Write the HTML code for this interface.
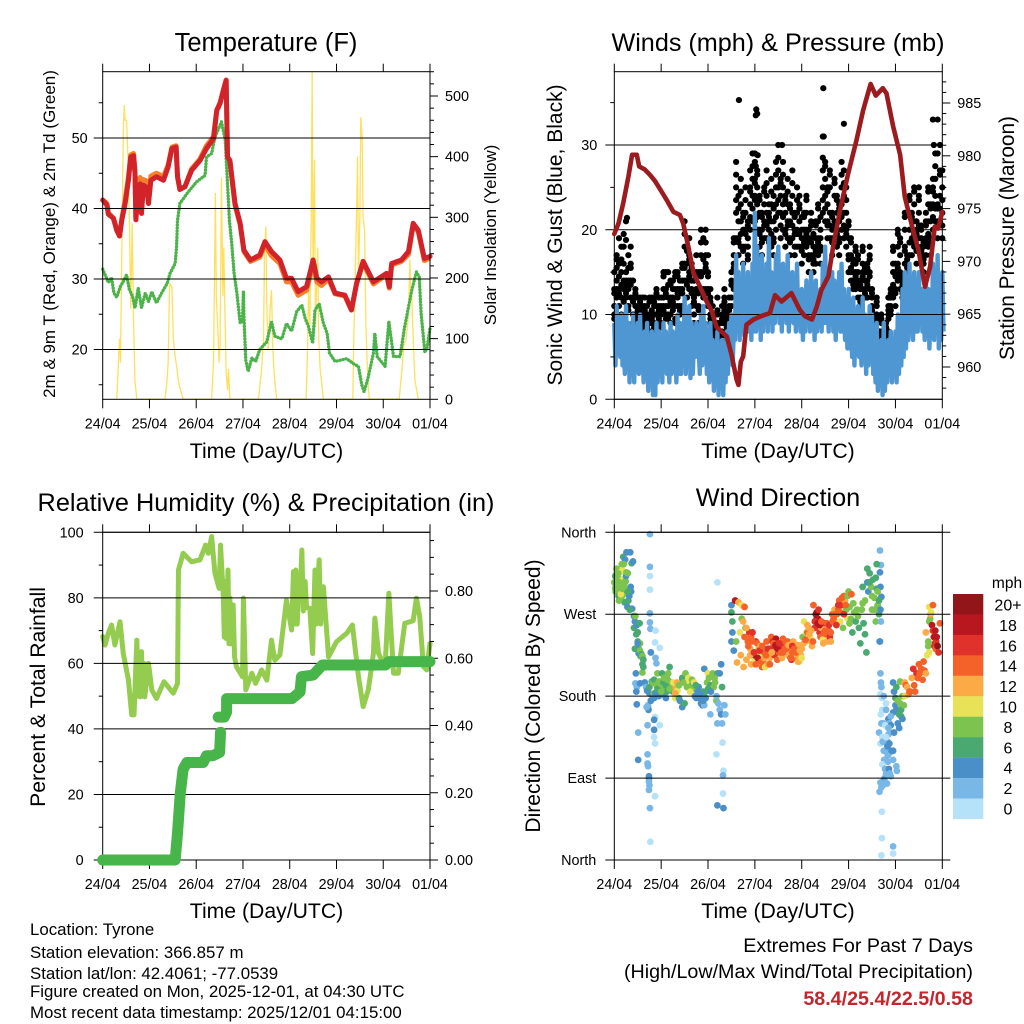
<!DOCTYPE html>
<html lang="en">
<head>
<meta charset="utf-8">
<title>Tyrone Station Meteogram</title>
<style>
html,body{margin:0;padding:0;background:#fff;}
svg{display:block;font-family:"Liberation Sans",sans-serif;fill:#000;}
</style>
</head>
<body>
<svg id="chart" xmlns="http://www.w3.org/2000/svg" width="1024" height="1024" viewBox="0 0 1024 1024">
<rect x="0" y="0" width="1024" height="1024" fill="#fff"/>
<g id="p-temp"></g>
<g id="p-wind"></g>
<g id="p-rh"></g>
<g id="p-dir"></g>
<g id="p-legend"></g>

<text x="266" y="51" font-size="25.5" text-anchor="middle">Temperature (F)</text>
<text x="778" y="51" font-size="25.2" text-anchor="middle">Winds (mph) &amp; Pressure (mb)</text>
<text x="266" y="511" font-size="25.3" text-anchor="middle">Relative Humidity (%) &amp; Precipitation (in)</text>
<text x="778" y="506" font-size="25.3" text-anchor="middle">Wind Direction</text>

<text x="266.5" y="458" font-size="21.2" text-anchor="middle">Time (Day/UTC)</text>
<text x="778" y="458" font-size="21.2" text-anchor="middle">Time (Day/UTC)</text>
<text x="266.5" y="918" font-size="21.2" text-anchor="middle">Time (Day/UTC)</text>
<text x="778" y="918" font-size="21.2" text-anchor="middle">Time (Day/UTC)</text>

<text transform="translate(55,234) rotate(-90)" font-size="17" text-anchor="middle">2m &amp; 9m T (Red, Orange) &amp; 2m Td (Green)</text>
<text transform="translate(496,235) rotate(-90)" font-size="16.9" text-anchor="middle">Solar Insolation (Yellow)</text>
<text transform="translate(562,235) rotate(-90)" font-size="21" text-anchor="middle">Sonic Wind &amp; Gust (Blue, Black)</text>
<text transform="translate(1014,238) rotate(-90)" font-size="20.8" text-anchor="middle">Station Pressure (Maroon)</text>
<text transform="translate(45,697) rotate(-90)" font-size="21.2" text-anchor="middle">Percent &amp; Total Rainfall</text>
<text transform="translate(540,696) rotate(-90)" font-size="21" text-anchor="middle">Direction (Colored By Speed)</text>

<g font-size="16.85">
<text x="30" y="935">Location: Tyrone</text>
<text x="30" y="958">Station elevation: 366.857 m</text>
<text x="30" y="979">Station lat/lon: 42.4061; -77.0539</text>
<text x="30" y="997">Figure created on Mon, 2025-12-01, at 04:30 UTC</text>
<text x="30" y="1018">Most recent data timestamp: 2025/12/01 04:15:00</text>
</g>
<g font-size="19.7" text-anchor="end">
<text x="973" y="952">Extremes For Past 7 Days</text>
<text x="973" y="978">(High/Low/Max Wind/Total Precipitation)</text>
<text x="973" y="1005" font-weight="bold" style="fill:#c1272d">58.4/25.4/22.5/0.58</text>
</g>
</svg>

<script>
// ---- shared tick data ----
const dayTicks = [0,1,2,3,4,5,6,7];
const dayLabels = ['24/04','25/04','26/04','27/04','28/04','29/04','30/04','01/04'];

// ---- temperature panel data ----
const tempDays = [0,.09,.12,.23,.30,.36,.41,.48,.55,.60,.66,.69,.71,.76,.80,.83,.87,.94,.98,1.03,1.15,1.30,1.40,1.48,1.57,1.60,1.65,1.76,1.90,2.08,2.22,2.37,2.44,2.51,2.58,2.64,2.67,2.72,2.83,2.94,3.02,3.16,3.36,3.47,3.61,3.79,3.93,4.04,4.18,4.36,4.50,4.58,4.68,4.83,4.97,5.18,5.32,5.43,5.57,5.79,6.07,6.13,6.18,6.39,6.54,6.64,6.75,6.88,7];
const tempRed = [41.2,40.5,39.2,38.6,36.9,36.1,38.4,40.7,44,47.3,47.5,45,38.4,43.1,43.5,39.3,43.3,43,40.7,44,44.5,44,45.9,48.5,48.7,44.5,42.7,43.1,45.4,46.8,48.5,49.9,53.9,54.9,56.7,58.2,47.3,46.8,40.7,37.9,34.1,32.7,33.4,35.3,33.9,32.7,30.1,30.1,28.2,28.9,32.7,30.1,29.6,30.3,28,27.7,25.6,29.4,32.5,29.6,30.8,28.9,32.2,32.7,33.9,37.9,36.9,32.9,33.2];
const tempOrange = [41.2,40.7,39.4,38.6,37.1,36.1,38.6,41.2,44.4,47.6,47.8,45.4,38.6,44,44.4,39.5,44.1,43.9,41,44.6,45,44.5,46.2,48.7,48.9,44.6,42.7,43.1,45.6,47,48.9,50.2,54,55,56.8,58.2,47.3,46.8,40.5,37.7,33.9,32.5,33.1,34.9,33.3,32.2,29.6,29.6,27.7,28.4,32.3,29.6,29.1,30,27.9,27.6,25.6,29.3,32.3,29.3,30.6,28.7,32,32.5,33.5,37.6,36.7,32.6,33];
const dewDays = [0,.07,.12,.19,.24,.30,.38,.44,.51,.57,.64,.69,.76,.83,.91,.98,1.05,1.15,1.26,1.38,1.44,1.55,1.58,1.60,1.65,1.80,2.01,2.19,2.22,2.33,2.40,2.54,2.62,2.67,2.71,2.76,2.81,2.87,2.94,2.99,3.01,3.02,3.06,3.11,3.19,3.27,3.36,3.51,3.61,3.68,3.83,3.93,4.04,4.15,4.26,4.33,4.40,4.49,4.54,4.63,4.72,4.80,4.85,4.97,5.22,5.36,5.47,5.54,5.59,5.68,5.79,5.82,5.87,6.04,6.12,6.22,6.36,6.46,6.61,6.71,6.77,6.81,6.89,6.94,7];
const dewPoint = [31.4,30.3,29.5,30.2,28,27.4,29,29.6,30.6,28.5,27.5,25.9,28.7,25.9,28,26.8,28.2,26.6,28,29.4,30.8,32.2,34.6,38.3,40.7,42.1,43.8,44.7,47.3,47.8,50.1,52.3,49.7,43.5,38.3,35,30.8,28,23.7,24.2,28.2,24.7,18.5,16.9,18.8,18.3,20,21.1,24,21.9,21.5,23.7,22.6,25.4,26.3,24.4,23.3,20.9,25.6,26.5,23.7,22.3,19.5,18.3,18.7,18,17.6,15,14,16.1,19.5,22.3,19,17.6,24,19,19,23.3,28.4,31,30.3,25.1,19.6,20.3,23];
const solarDays = [.30,.36,.38,.41,.44,.46,.48,.51,.54,.57,.60,.63,.66,.69,.73,1.33,1.37,1.40,1.43,1.45,1.48,1.51,1.55,1.58,1.62,1.65,1.72,2.33,2.37,2.39,2.41,2.43,2.46,2.49,2.51,2.54,2.57,2.59,2.62,2.64,2.67,2.69,2.72,3.33,3.40,3.44,3.46,3.49,3.51,3.54,3.58,3.61,3.64,3.67,3.72,4.35,4.38,4.40,4.43,4.46,4.48,4.50,4.53,4.55,4.58,4.60,4.62,4.65,4.68,4.72,5.35,5.37,5.40,5.43,5.45,5.47,5.50,5.52,5.55,5.57,5.60,5.63,5.66,5.70,6.34,6.39,6.44,6.49,6.54,6.57,6.59,6.61,6.64,6.68,6.75];
const solarVals = [0,100,60,250,440,485,460,460,400,300,150,290,130,30,0,0,25,60,190,190,185,100,70,55,30,20,0,0,60,190,340,170,120,60,90,365,170,250,120,45,15,50,0,0,50,100,240,285,150,80,150,180,80,40,0,0,80,180,120,300,540,200,395,120,200,250,100,50,30,0,0,100,200,310,400,200,300,465,430,300,280,120,50,0,0,40,90,100,140,230,170,170,100,30,0];
const tempTicks = [20,30,40,50];
const tempMinorTicks = [15,25,35,45,55];
const solarTicks = [0,100,200,300,400,500];
const solarMinorTicks = [20,40,60,80,120,140,160,180,220,240,260,280,320,340,360,380,420,440,460,480,520,540];

// ---- wind panel data (0.05-day sampling) ----
const windStep = 0.05;
const windHi = [
9,11,7,10,8,11,9,7,10,8, 9,10,7,8,9,6,8,7,9,8,
7,9,8,6,9,8,7,10,9,8, 12,10,11,9,7,9,6,10,11,9,
8,9,7,6,8,5,7,6,8,9, 10,8,17,15,13,16,14,15,13,16,
22,18,15,17,14,16,19,15,14,17, 18,15,16,14,17,13,15,14,16,12,
13,11,14,13,15,12,14,11,13,16, 18,15,13,15,14,13,15,16,13,11,
13,11,12,10,11,9,12,10,9,11, 10,8,9,6,7,9,5,7,8,6,
8,10,9,13,15,13,16,14,15,12, 15,13,11,14,13,12,16,14,17,13,15];
const windLo = [
4,6,5,4,3,5,2,3,2,4, 3,4,2,3,1,2,.5,.5,2,3,
2,4,3,2,3,4,2,3,3,4, 3,5,2.5,3,5,6,3,4,5,3,
2,3,1,2,.5,2,.5,2,3,5, 4,7,8,7,8,7.5,8,8,7,8,
8,9,7,8,9,8,9,8,9,10, 9,8,10,9,8,10,9,8,9,8,
7,8,9,8,9,7,8,9,8,9, 9,8,9,8,7,9,8,8,7,6,
6,5,4,6,5,4,5,3,4,5, 3,2,1,2,.5,1,2,3,2,3,
2,3,4,5,6,7,8,7,8,8, 9,8,7,8,6,8,7,8,6,7,8];
const gustA = [
13,17,19,15,18,21,14,16,12,13, 12,11,12,12,11,12,10,11,13,12,
12,15,13,15,12,14,13,15,14,16, 21,18,19,16,14,17,15,20,19,20,
17,13,11,10,12,8,11,13,10,12, 15,19,28,24,26,22,25,21,27,29,
28,27,24,22,25,27,23,26,24,28, 30,26,28,24,26,23,27,22,25,24,
20,22,24,20,22,18,21,23,20,31, 28,25,27,22,26,24,23,28,27,25,
21,19,16,18,17,14,18,15,16,18, 13,10,12,8,10,7,9,12,13,18,
16,20,19,14,22,17,24,22,25,21, 25,20,18,22,25,23,26,29,33,30,27];
const gustB = [
11,14,13,12,16,12,17,14,10,11, 10,9,11,10,8,10,9,10,11,10,
10,12,11,12,10,13,11,12,11,13, 16,14,15,13,10,13,11,15,13,16,
13,10,9,8,9,7,9,11,8,10, 12,16,22,19,21,18,20,18,23,24,
24,23,20,19,21,22,20,21,19,23, 25,22,23,20,21,19,22,18,20,21,
18,19,20,17,19,16,18,19,18,27, 24,21,22,19,21,20,19,23,22,20,
17,15,14,15,14,12,15,13,14,15, 11,9,10,7,8,6,8,10,11,15,
13,16,15,12,18,15,20,19,21,18, 22,18,16,19,21,19,23,24,21,24,22];
const gustC = [
10,12,11,10,13,14,11,12,9,10, 9,8,9,9,7,8,8,9,10,9,
9,11,10,10,9,11,9,11,10,11, 14,12,13,11,9,11,9,13,12,13,
11,9,8,7,8,6,8,9,7,9, 11,13,19,17,18,16,18,17,20,21,
21,20,18,17,19,19,21,18,17,20, 22,19,20,18,19,17,19,17,18,18,
16,17,18,15,17,15,16,17,16,22, 21,19,19,17,19,18,17,20,19,18,
15,14,13,13,12,11,13,12,12,13, 10,8,9,6,7,5,7,8,10,12,
11,14,13,14,16,14,17,17,18,16, 19,16,15,17,18,17,20,21,19,21,19];
const gustD = [
15,13,16,18,14,15,13,18,14,12, 11,12,10,11,10,9,12,12,10,11,
11,13,15,11,14,12,15,13,13,14, 18,16,17,14,12,15,13,17,15,17,
15,12,10,9,10,9,10,12,9,11, 14,17,25,21,23,20,22,19,25,26,
26,25,22,20,23,24,22,23,21,25, 27,24,25,22,23,21,24,20,22,23,
19,20,22,19,21,17,19,21,19,25, 26,23,25,20,24,22,21,25,24,22,
19,17,15,16,15,13,16,14,15,17, 12,9,11,8,9,7,8,11,12,16,
15,18,17,13,20,16,22,20,23,20, 24,19,17,21,23,21,25,26,23,27,25];
const gustE = [
9.5,15.5,12.5,13.5,11.5,12.5,10.5,13.5,8.5,9.5, 9.5,10.5,8.5,9.5,8.5,7.5,9.5,8.5,8.5,9.5,
8.5,10.5,9.5,9.5,11.5,10.5,9.5,12.5,10.5,12.5, 15.5,13.5,14.5,12.5,11.5,12.5,10.5,14.5,12.5,15.5,
12.5,9.5,8.5,7.5,8.5,6.5,7.5,10.5,8.5,8.5, 13.5,15.5,23.5,18.5,19.5,17.5,19.5,16.5,21.5,22.5,
23.5,21.5,19.5,18.5,20.5,20.5,18.5,19.5,18.5,21.5, 23.5,20.5,21.5,19.5,20.5,18.5,20.5,19.5,19.5,19.5,
17.5,18.5,19.5,16.5,18.5,16.5,17.5,18.5,17.5,23.5, 22.5,20.5,20.5,18.5,20.5,19.5,18.5,21.5,20.5,19.5,
16.5,15.5,13.5,14.5,13.5,11.5,14.5,12.5,13.5,14.5, 10.5,8.5,9.5,6.5,7.5,5.5,7.5,9.5,10.5,13.5,
12.5,15.5,14.5,12.5,17.5,15.5,18.5,18.5,19.5,17.5, 20.5,17.5,16.5,18.5,19.5,18.5,21.5,22.5,20.5,22.5,20.5];
const gustF = [
12.5,16.5,14.5,16.5,19.5,13.5,15.5,15.5,11.5,12.5, 10.5,11.5,9.5,10.5,9.5,11.5,10.5,11.5,12.5,10.5,
10.5,14.5,12.5,13.5,13.5,11.5,14.5,14.5,12.5,15.5, 19.5,17.5,16.5,15.5,12.5,14.5,12.5,18.5,16.5,18.5,
14.5,11.5,9.5,8.5,10.5,7.5,9.5,11.5,9.5,10.5, 13.5,18.5,26.5,22.5,24.5,21.5,23.5,20.5,24.5,27.5,
25.5,26.5,23.5,21.5,24.5,25.5,21.5,24.5,22.5,26.5, 28.5,25.5,26.5,23.5,24.5,22.5,25.5,21.5,23.5,22.5,
21.5,21.5,23.5,18.5,20.5,19.5,20.5,22.5,21.5,28.5, 27.5,24.5,26.5,21.5,25.5,23.5,22.5,26.5,25.5,23.5,
20.5,18.5,16.5,17.5,16.5,13.5,17.5,15.5,15.5,16.5, 12.5,9.5,11.5,7.5,9.5,6.5,8.5,10.5,12.5,17.5,
14.5,19.5,18.5,13.5,21.5,16.5,23.5,21.5,24.5,19.5, 23.5,20.5,18.5,20.5,24.5,22.5,24.5,27.5,22.5,26.5,23.5];
const gustPeakDays = [2.66,3.03,3.02,3.05,3.58,4.46,4.47,4.9,6.8,6.82,6.9,.27,.25,3.0,3.02,3.06];
const gustPeakVals = [35.3,34.2,33.5,33.7,30,36.7,31,32.5,33,30,29,21.4,18.8,29,27.5,28.8];
const pressDays = [0,.09,.19,.30,.38,.48,.53,.65,.76,.87,1.01,1.12,1.26,1.40,1.47,1.58,1.69,1.83,1.97,2.08,2.18,2.40,2.50,2.61,2.65,2.70,2.75,2.82,2.97,3.18,3.32,3.43,3.57,3.78,3.96,4.07,4.22,4.32,4.42,4.57,4.67,4.82,4.99,5.17,5.31,5.47,5.58,5.73,5.81,5.95,6.10,6.20,6.34,6.49,6.63,6.74,6.84,6.91,7];
const pressVals = [972.6,973.6,975.5,978,980.1,980.1,979,978.7,978.2,977.6,976.6,975.8,974.7,974.4,973.6,971.4,968.9,967.6,966.2,965.3,963.8,962.9,961.2,958.8,958.3,960.5,961,964,964.5,964.9,965.1,966.8,966.2,967,965.4,964.8,964.5,965.7,967.3,968.6,971.4,974.9,978.3,981.5,984.3,986.8,985.7,986.4,985.9,982.8,980.1,976.1,973.6,971.1,967.6,969.5,973.3,973.1,974.7];
const windTicks = [0,10,20,30];
const windMinorTicks = [5,15,25,35];
const pressTicks = [960,965,970,975,980,985];
const pressMinorTicks = [958,959,961,962,963,964,966,967,968,969,971,972,973,974,976,977,978,979,981,982,983,984,986,987];

// ---- humidity panel data ----
const rhDays = [0,.05,.12,.19,.26,.37,.44,.55,.62,.67,.73,.76,.78,.80,.83,.85,.88,.9,.98,1.05,1.15,1.31,1.51,1.60,1.62,1.72,1.90,2.08,2.20,2.26,2.33,2.40,2.49,2.52,2.58,2.6,2.62,2.64,2.68,2.70,2.72,2.74,2.79,2.82,2.86,2.99,3.01,3.06,3.19,3.27,3.40,3.51,3.61,3.68,3.79,3.93,4.04,4.08,4.11,4.13,4.16,4.18,4.22,4.26,4.29,4.33,4.36,4.43,4.49,4.54,4.57,4.6,4.63,4.66,4.72,4.83,5.0,5.22,5.34,5.47,5.57,5.68,5.79,5.82,5.90,6.04,6.12,6.22,6.32,6.46,6.64,6.71,6.78,6.86,6.93,7];
const rhVals = [68.2,65.6,69.2,71.7,65.6,72.7,63,55,44.3,44.3,67.1,50,63,49.8,63.6,50,60,49.8,60,51.9,49.3,54.4,50.9,53.9,88.5,93.6,91,91.6,96.1,93.6,98.7,87.5,82.9,96.1,80.4,68,85,67.6,88.5,66,80,66,77.8,62,59,55.9,79.9,51.9,57,53.9,58,54.9,67.1,61,62.6,79.3,70.2,88,72,88.5,72,79,80,94.6,76,85,77,76.8,63,88.5,72,85,91.6,72,83.4,62,66.6,69.2,71.7,56,46.8,51.9,63,73.8,63,59,81.4,57,57,72.2,73,79.9,74.3,59,58,66.1];
const rainDays = [0,1,1.55,1.60,1.66,1.72,1.8,2.05,2.15,2.22,2.35,2.5,2.52,null,2.47,2.6,2.65,2.65,4.05,4.22,4.25,4.5,4.7,6.05,6.12,7];
const rainVals = [0,0,0,.08,.2,.27,.29,.29,.29,.31,.31,.32,.38,null,.425,.425,.44,.48,.48,.5,.545,.55,.58,.58,.59,.59];
const rhTicks = [0,20,40,60,80,100];
const rhMinorTicks = [10,30,50,70,90];
const rainTicks = [0,.2,.4,.6,.8];
const rainMinorTicks = [.05,.1,.15,.25,.3,.35,.45,.5,.55,.65,.7,.75,.85,.9,.95];

// ---- wind direction panel data ----
const dirTicks = [0,90,180,270,360];
const dirLabels = ['North','East','South','West','North'];
const speedLabels = ['20+','18','16','14','12','10','8','6','4','2','0'];
const speedColors = ['#921619','#b8171f','#e0322a','#f4622a','#fbaa46','#e8e258','#7cc44f','#4aa970','#4a8fc8','#79b8e6','#b6e2f9'];
const dirDay = [
0,.02,.03,.05,.06,.08,.09,.1,.12,.13,
.15,.16,.18,.19,.2,.22,.23,.25,.26,.27,
.28,.3,.32,.34,.35,.37,.38,.4,.42,.44,
.42,.45,.47,.48,.5,.5,.52,.54,.55,.56,
.44,.5,.52,.55,.58,.6,.6,.62,.46,.48,
.45,.47,.48,.55,.6,.62,.65,.68,.7,.72,
.72,.73,.75,.75,.78,.8,.82,.82,.84,.85,
.85,.88,.9,.92,.92,.95,.95,.98,1.0,1.02,
1.05,1.05,1.08,1.1,1.12,1.12,1.15,1.15,1.18,1.2,
1.22,1.25,1.28,1.3,1.3,1.32,1.35,1.38,1.4,1.42,
1.45,1.45,1.48,1.5,1.52,1.55,1.58,1.6,1.62,1.65,
1.68,1.7,1.72,1.75,1.78,1.8,1.82,1.85,1.88,1.9,
1.92,1.92,1.95,1.95,1.98,2.0,2.02,2.05,2.05,2.1,
2.12,2.15,2.18,2.2,2.25,2.28,2.3,2.5,2.5,2.52,
2.5,2.52,2.55,2.58,2.6,2.62,2.65,2.68,2.7,2.72,
2.72,2.75,2.76,2.78,2.8,2.82,2.85,2.88,2.9,2.92,
2.92,2.95,2.98,3.0,3.02,3.05,3.08,3.1,3.12,3.15,
3.18,3.2,3.22,3.25,3.28,3.3,3.32,3.35,3.38,3.4,
3.42,3.45,3.48,3.5,3.52,3.55,3.58,3.6,3.62,3.65,
3.68,3.7,3.72,3.75,3.78,3.8,3.82,3.85,3.88,3.9,
3.92,3.95,3.98,4.0,4.02,4.05,4.08,4.1,4.12,4.15,
4.18,4.2,4.22,4.25,4.28,4.3,4.32,4.35,4.38,4.4,
4.42,4.45,4.48,4.5,4.52,4.55,4.58,4.6,4.62,4.65,
4.68,4.7,4.72,4.75,4.78,4.8,4.82,4.85,4.88,4.9,
4.92,4.95,4.98,5.0,5.02,5.05,5.08,5.1,5.12,5.15,
5.18,5.2,5.22,5.25,5.28,5.3,5.32,5.35,5.38,5.4,
5.42,5.45,5.48,5.5,5.52,5.55,5.58,5.6,5.62,5.65,
5.67,5.69,5.67,5.68,5.7,5.68,5.69,5.66,5.67,5.68,
5.69,5.7,5.68,5.71,5.72,5.69,5.7,5.65,5.72,5.68,
5.74,5.73,5.75,5.76,5.72,5.78,5.77,5.75,5.73,5.78,
5.68,5.70,5.66,5.71,5.71,5.70,5.95,5.95,5.78,5.8,
5.95,5.97,6.0,6.0,6.02,6.02,6.05,6.05,6.08,6.08,
6.1,6.1,6.12,6.12,6.15,6.15,6.18,6.2,6.2,6.22,
6.25,6.28,6.3,6.32,6.35,6.38,6.4,6.42,6.45,6.48,
6.5,6.52,6.55,6.58,6.6,6.62,6.65,6.68,6.7,6.72,
6.65,6.7,6.72,6.72,6.74,6.75,6.76,6.78,6.8,6.8,
6.82,6.83,6.84,6.85,6.86,6.87,6.88,6.9,6.92,6.95,
.76,.76,.76,.76,.76,.76,.77,.88,.87,.97,
.78,.88,.9,.69,.87,.85,.71,.97,.85,.51,
.85,.87,.71,.51,.71,.72,.74,.74,.74,.75,
.74,.87,.76,.77,2.2,2.18,2.22,2.25,2.28,2.35,
2.2,2.3,2.31,2.18,2.33,2.32,2.32,2.2,2.33,2.37,
5.8,5.85,5.87,5.88,5.83,5.82,5.84,5.86,5.88,5.9,
5.85,5.83,5.84,5.88,5.9,5.82,5.95,5.95,6.02,6.03,
5.87,5.78,5.8,5.95,5.97,5.75,5.8,5.85,5.9,5.92,
.03,.07,.1,.14,.17,.21,.24,.29,.33,.36,
2.78,2.82,2.86,2.9,2.94,2.98,3.02,3.06,3.1,3.14,
3.16,3.2,3.24,3.28,3.32,3.36,3.4,3.44,3.48,3.52,
3.56,3.6,3.64,3.68,3.72,3.76,3.8,3.84,3.88,3.92,
3.96,4.0,4.04,4.08,4.12,4.16,4.2,4.24,4.28,4.32,
4.34,4.36,4.38,4.42,4.46,4.5,4.54,4.58,4.62,4.66,
4.7,4.74,4.78,4.82,4.86,4.9,4.94,4.98,5.02,5.06,
1.0,1.06,1.1,1.14,1.18,1.22,1.26,1.3,1.34,1.38,
1.62,1.66,1.7,1.74,1.78,1.84,1.9,2.0,2.06,2.14,
.02,.05,.08,.11,.14,.17,.2,.23,.26,.3,
5.3,5.35,5.4,5.45,5.5,5.55,5.58,5.6,5.62,5.65];
const dirDeg = [
305,312,295,320,300,310,290,298,316,303,
288,325,308,333,292,283,330,312,338,296,
278,285,290,338,300,326,276,328,268,262,
255,268,248,258,250,240,232,260,238,224,
232,238,227,230,226,224,215,220,205,190,
194,185,171,194,206,212,195,190,186,170,
168,165,190,183,175,196,195,178,183,178,
198,183,192,188,205,180,196,186,193,205,
195,182,190,178,200,185,205,192,212,192,
190,185,188,183,178,190,186,178,175,195,
200,168,195,172,205,190,200,197,190,192,
195,188,180,178,185,190,178,172,170,185,
210,170,178,185,195,205,200,160,192,205,
190,195,175,205,205,215,190,280,272,250,
240,262,230,285,240,217,283,250,225,265,
280,262,212,278,255,220,240,250,232,245,
215,250,222,225,240,238,232,224,235,212,
220,228,212,240,215,232,222,245,240,235,
225,243,220,238,228,232,222,243,235,240,
232,240,225,235,220,228,240,222,232,225,
236,218,225,232,245,262,240,250,250,255,
245,240,235,280,255,270,265,265,250,245,
255,242,250,260,248,240,252,245,240,270,
265,275,260,270,275,285,262,280,255,290,
285,275,265,295,278,265,250,282,272,262,
275,268,255,238,275,282,260,248,228,305,
295,315,300,275,308,288,262,298,280,270,
340,324,316,300,289,275,262,240,240,205,
195,190,182,178,165,160,150,140,135,128,
150,130,120,110,105,100,90,88,82,85,
85,80,75,53,24,5,15,7,100,95,
195,185,178,170,190,165,175,150,160,145,
196,172,165,158,180,155,170,180,195,192,
190,182,185,185,200,210,192,185,205,200,
215,205,210,198,218,208,205,225,235,228,
250,240,262,278,265,270,272,258,252,280,
245,235,238,252,232,240,245,235,228,260,
358,322,312,297,271,261,254,252,239,233,
228,222,216,168,157,154,148,148,143,140,
135,128,116,110,106,103,92,90,86,82,
77,70,57,20,305,180,172,165,160,170,
150,150,129,116,98,93,73,60,57,160,
165,155,150,140,130,118,115,100,95,148,
138,125,108,118,92,84,120,110,103,98,
128,148,172,162,140,180,135,145,158,120,
300,306,285,300,318,300,306,315,275,295,
245,255,235,225,240,228,215,222,230,218,
235,222,225,232,215,228,238,236,232,238,
228,228,232,238,236,222,235,232,228,218,
230,222,238,242,258,248,252,240,262,272,
260,275,258,262,238,252,260,258,250,262,
270,258,280,272,288,270,280,290,260,292,
185,200,192,198,188,195,195,183,195,192,
185,198,195,192,180,182,175,188,185,200,
298,303,315,305,292,298,325,305,316,295,
300,285,320,305,290,275,310,325,295,285];
const dirSpeed = [
8,6,8,8,10,8,6,8,10,8,
8,8,10,6,8,6,4,4,4,6,
4,6,4,4,4,6,4,4,4,4,
6,8,6,4,6,6,4,6,8,6,
6,4,4,8,6,8,6,6,4,2,
2,4,4,4,8,6,4,2,4,2,
2,4,6,4,4,6,8,4,8,4,
6,4,8,6,8,4,8,6,8,6,
6,4,8,4,8,6,8,6,6,10,
8,6,12,12,10,12,10,6,4,4,
6,4,8,6,8,8,10,10,8,8,
6,8,4,4,4,4,4,4,4,6,
4,2,4,6,8,10,8,2,6,8,
8,8,8,6,4,4,6,4,6,4,
4,6,4,18,8,12,12,10,12,8,
10,12,12,14,8,12,14,16,12,14,
12,16,10,18,16,14,12,10,12,14,
14,14,10,14,12,16,12,14,16,16,
16,18,14,16,14,16,12,14,16,14,
14,14,12,14,16,14,12,14,16,12,
12,10,12,12,8,10,12,10,14,12,
10,12,12,14,16,18,20,18,16,14,
12,10,14,16,14,12,14,16,12,14,
14,12,12,14,14,14,10,16,8,14,
12,8,10,8,8,8,6,8,8,6,
8,8,6,6,8,8,6,6,6,4,
4,6,8,8,6,8,8,6,8,6,
2,2,4,4,4,4,2,2,4,2,
2,2,0,0,0,0,2,2,0,0,
2,2,2,2,0,2,2,4,2,2,
2,2,2,0,0,0,2,0,2,2,
4,4,6,4,6,4,8,4,6,4,
8,8,6,6,8,4,8,10,12,14,
12,12,14,14,12,16,14,14,16,14,
14,14,14,14,14,14,12,10,8,10,
12,8,8,10,8,12,10,18,16,14,
18,16,16,18,14,16,18,20,16,14,
2,2,0,0,2,2,2,0,0,0,
4,2,2,2,0,4,2,0,4,2,
0,0,2,4,2,2,4,4,2,2,
2,0,2,0,0,2,2,2,4,2,
2,2,0,0,0,2,0,4,4,2,
2,4,2,2,2,2,2,4,2,4,
2,4,2,2,2,2,4,2,2,2,
4,0,0,4,4,2,0,2,2,4,
8,8,8,8,10,8,6,8,6,4,
14,12,14,12,14,16,14,18,16,14,
14,12,14,16,14,12,14,18,18,16,
14,14,14,14,12,14,16,14,14,12,
12,10,12,14,12,12,12,14,16,20,
18,16,18,14,12,14,14,16,14,14,
14,16,16,14,14,16,14,8,8,14,
8,8,6,8,8,8,10,12,12,8,
10,8,10,6,4,4,4,6,4,8,
8,8,8,8,10,8,8,8,8,6,
6,8,6,6,8,8,6,6,8,6];

// ---- helpers ----
const NS = 'http://www.w3.org/2000/svg';
function mk(tag, attrs, parent) {
  const n = document.createElementNS(NS, tag);
  for (const k in attrs) n.setAttribute(k, attrs[k]);
  parent.appendChild(n);
  return n;
}
function linear(d0, d1, p0, p1) { return v => p0 + (v - d0) * (p1 - p0) / (d1 - d0); }
function pathFrom(xs, ys, fx, fy) {
  let d = '', pen = false;
  for (let i = 0; i < xs.length; i++) {
    if (xs[i] === null || ys[i] === null) { pen = false; continue; }
    d += (pen ? 'L' : 'M') + fx(xs[i]).toFixed(2) + ' ' + fy(ys[i]).toFixed(2);
    pen = true;
  }
  return d;
}
function colorForSpeed(s) {
  const idx = Math.min(10, Math.max(0, Math.floor(s / 2)));
  return speedColors[10 - idx];
}

// Frame, time ticks, left/right axes and grid
function drawAxes(g, b, opt) {
  const top = b.top, bot = b.bottom, L = b.left, R = b.right;
  dayTicks.forEach((t, i) => {
    const x = b.fx(t);
    const tickBottom = mk('line', {x1:x, x2:x, y1:bot, y2:bot + 9, stroke:'#000', 'stroke-width':1}, g);
    
    
    const tickTop = mk('line', {x1:x, x2:x, y1:top - 8, y2:top, stroke:'#000', 'stroke-width':1}, g);
    
    
    const lab = mk('text', {x:x, y:bot + 29, 'font-size':14.3, 'text-anchor':'middle'}, g);
    lab.textContent = dayLabels[i];
    
    
  });
  opt.leftTicks.forEach((v, i) => {
    const y = opt.fl(v);
    const grid = mk('line', {x1:L - 9, x2:opt.gridRight, y1:y, y2:y, stroke:'#000', 'stroke-width':1}, opt.gridLayer);
    
    
    const lab = mk('text', {x:L - opt.labelGap, y:y + 5, 'font-size':14.4, 'text-anchor':'end'}, g);
    lab.textContent = opt.leftLabels ? opt.leftLabels[i] : String(v);
    
    
  });
  (opt.leftMinor || []).forEach(v => {
    const y = opt.fl(v);
    const t = mk('line', {x1:L - 4, x2:L, y1:y, y2:y, stroke:'#000', 'stroke-width':1}, g);
    
    
  });
  (opt.rightTicks || []).forEach((v, i) => {
    const y = opt.fr(v);
    const t = mk('line', {x1:R, x2:R + 8, y1:y, y2:y, stroke:'#000', 'stroke-width':1}, g);
    
    
    const lab = mk('text', {x:R + 15, y:y + 5, 'font-size':14.4}, g);
    lab.textContent = opt.rightLabels ? opt.rightLabels[i] : String(v);
    
    
  });
  (opt.rightMinor || []).forEach(v => {
    const y = opt.fr(v);
    const t = mk('line', {x1:R, x2:R + 4, y1:y, y2:y, stroke:'#000', 'stroke-width':1}, g);
    
    
  });
  const frame = mk('rect', {x:L, y:top, width:R - L, height:bot - top, fill:'none', stroke:'#000', 'stroke-width':1}, opt.gridLayer);
  
  
}

const xTime = (L, R) => linear(0, 7, L, R);

// ---- Temperature ----
(function () {
  const g = document.getElementById('p-temp');
  const b = {left:102.7, right:430, top:71.7, bottom:399.3};
  b.fx = xTime(b.left, b.right);
  const fT = linear(50, 20, 138, 349.5);
  const fS = linear(0, 500, 399.3, 96);
  const clipRect = mk('clipPath', {id:'clip-temp'}, g);
  
  
  const clipShape = mk('rect', {x:b.left, y:b.top, width:b.right - b.left, height:b.bottom - b.top}, clipRect);
  
  

  const solar = mk('path', {d:pathFrom(solarDays, solarVals, b.fx, fS), fill:'none', stroke:'#fde05e', 'stroke-width':1.3, 'clip-path':'url(#clip-temp)'}, g);
  
  
  const t9 = mk('path', {d:pathFrom(tempDays, tempOrange, b.fx, fT), fill:'none', stroke:'#f57f2a', 'stroke-width':5, 'stroke-linejoin':'round'}, g);
  
  
  const dew = mk('path', {d:pathFrom(dewDays, dewPoint, b.fx, fT), fill:'none', stroke:'#4cb24a', 'stroke-width':3.4, 'stroke-linecap':'round', 'stroke-dasharray':'0.1 3'}, g);
  
  
  const t2 = mk('path', {d:pathFrom(tempDays, tempRed, b.fx, fT), fill:'none', stroke:'#d2232a', 'stroke-width':5, 'stroke-linejoin':'round', 'stroke-linecap':'round'}, g);
  
  
  const gridLayer = mk('g', {}, g);
  
  
  drawAxes(g, b, {fl:fT, fr:fS, labelGap:15, leftTicks:tempTicks, leftMinor:tempMinorTicks, rightTicks:solarTicks, rightMinor:solarMinorTicks, gridRight:b.right, gridLayer});
})();

// ---- Winds & pressure ----
(function () {
  const g = document.getElementById('p-wind');
  const b = {left:614.3, right:942.3, top:71.7, bottom:399.3};
  b.fx = xTime(b.left, b.right);
  const fW = linear(0, 30, 399.3, 145);
  const fP = linear(960, 985, 367, 103);
  [gustC, gustE, gustB, gustD, gustF, gustA].forEach(layer => {
    layer.forEach((v, i) => {
      const dot = mk('circle', {cx:b.fx(i * windStep), cy:fW(v), r:3.1, fill:'#000'}, g);
      
      
    });
  });
  gustPeakVals.forEach((v, i) => {
    const dot = mk('circle', {cx:b.fx(gustPeakDays[i]), cy:fW(v), r:3.1, fill:'#000'}, g);
    
    
  });
  const tW = [], vW = [];
  windHi.forEach((v, i) => { tW.push(i * windStep); vW.push(v); tW.push(i * windStep + windStep / 2); vW.push(windLo[i]); });
  const wind = mk('path', {d:pathFrom(tW, vW, b.fx, fW), fill:'none', stroke:'#4f97d3', 'stroke-width':4.4, 'stroke-linejoin':'round'}, g);
  
  
  const gridLayer = mk('g', {}, g);
  
  
  drawAxes(g, b, {fl:fW, fr:fP, labelGap:17, leftTicks:windTicks, leftMinor:windMinorTicks, rightTicks:pressTicks, rightMinor:pressMinorTicks, gridRight:b.right, gridLayer});
  const press = mk('path', {d:pathFrom(pressDays, pressVals, b.fx, fP), fill:'none', stroke:'#9b1b1e', 'stroke-width':4.6, 'stroke-linejoin':'round', 'stroke-linecap':'round'}, g);
  
  
})();

// ---- Humidity & precipitation ----
(function () {
  const g = document.getElementById('p-rh');
  const b = {left:102.7, right:430, top:532.3, bottom:860};
  b.fx = xTime(b.left, b.right);
  const fR = linear(0, 100, 860, 532.3);
  const fI = linear(0, .8, 860, 591);
  const rh = mk('path', {d:pathFrom(rhDays, rhVals, b.fx, fR), fill:'none', stroke:'#94cc50', 'stroke-width':5, 'stroke-linejoin':'round', 'stroke-linecap':'round'}, g);
  
  
  const gridLayer = mk('g', {}, g);
  
  
  drawAxes(g, b, {fl:fR, fr:fI, labelGap:19, leftTicks:rhTicks, leftMinor:rhMinorTicks, rightTicks:rainTicks, rightLabels:rainTicks.map(v => v.toFixed(2)), rightMinor:rainMinorTicks, gridRight:b.right, gridLayer});
  const rain = mk('path', {d:pathFrom(rainDays, rainVals, b.fx, fI), fill:'none', stroke:'#47b549', 'stroke-width':11, 'stroke-linejoin':'round', 'stroke-linecap':'round'}, g);
  
  
})();

// ---- Wind direction ----
(function () {
  const g = document.getElementById('p-dir');
  const b = {left:614.3, right:942.3, top:532.3, bottom:860};
  b.fx = xTime(b.left, b.right);
  const fD = linear(0, 360, 860, 532.3);
  dirDeg.forEach((v, i) => {
    const dot = mk('circle', {cx:b.fx(dirDay[i]), cy:fD(v), r:3.4, fill:colorForSpeed(dirSpeed[i])}, g);
    
    
  });
  const gridLayer = mk('g', {}, g);
  
  
  drawAxes(g, b, {fl:fD, labelGap:18, leftTicks:dirTicks, leftLabels:dirLabels, gridRight:b.right + 8, gridLayer});

  const lg = document.getElementById('p-legend');
  const unit = mk('text', {x:1007, y:588, 'font-size':15.5, 'text-anchor':'middle'}, lg);
  unit.textContent = 'mph';
  
  
  speedLabels.forEach((s, i) => {
    const box = mk('rect', {x:953, y:594 + i * 20.45, width:30.3, height:20.6, fill:speedColors[i]}, lg);
    
    
    const lab = mk('text', {x:1008, y:610.5 + i * 20.4, 'font-size':16, 'text-anchor':'middle'}, lg);
    lab.textContent = s;
    
    
  });
})();
</script>
</body>
</html>
